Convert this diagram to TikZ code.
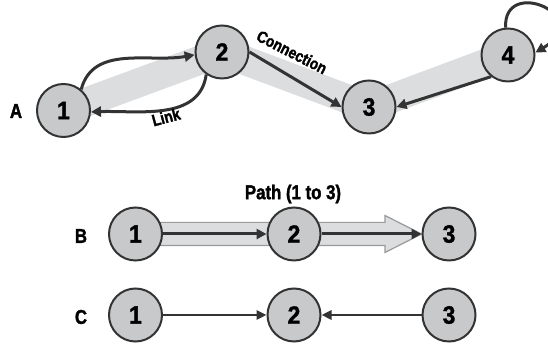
\documentclass[tikz,border=0pt]{standalone}
\usepackage{fontspec}
\setmainfont{Liberation Sans}
\newfontfamily\cond{Liberation Sans Bold}[FakeStretch=0.84,FakeBold=1.6]
\newfontfamily\digfont{Liberation Sans Bold}[FakeStretch=0.92,FakeBold=1.4]
\usetikzlibrary{arrows.meta,backgrounds,calc}
\definecolor{nodefill}{HTML}{C8C9CB}
\definecolor{dk}{HTML}{333333}
\definecolor{bandc}{HTML}{DCDDDF}
\definecolor{bandedge}{HTML}{9A9A9A}
\begin{document}
\begin{tikzpicture}[x=1pt,y=1pt,
  vtx/.style={circle,draw=dk,line width=2pt,fill=nodefill,minimum size=53pt,inner sep=0pt,
    font=\digfont\fontsize{25}{25}\selectfont},
  lbl/.style={font=\cond\fontsize{20}{20}\selectfont},
  smalllbl/.style={font=\cond\fontsize{16.5}{16.5}\selectfont},
  arr/.style={draw=dk,line width=3pt,-{Triangle[length=10pt,width=10pt]}},
  thinarr/.style={draw=dk,line width=2.6pt,-{Triangle[length=10pt,width=9pt]}},
  bandline/.style={draw=bandc,line width=29pt,line join=miter},
  bandarrow/.style={fill=bandc,draw=bandedge,line width=1.2pt,line join=miter}]
\useasboundingbox (0,0) rectangle (548,344);
% row A
\node[vtx] (a1) at (63.5,233.5) {1};
\node[vtx] (a2) at (222,292) {2};
\node[vtx] (a3) at (369,237) {3};
\node[vtx] (a4) at (508,289) {4};
\node[lbl] (la) at (16,233) {A};
\begin{scope}[on background layer]
  \draw[bandline] (a1.center) -- (a2.center) -- (a3.center) -- (a4.center);
\end{scope}
\draw[arr] (a1.50) to[out=75,in=190] (a2.186);
\draw[arr] (a2.235) to[out=262,in=2] (a1.-3);
\draw[arr] (a2.east) -- (a3.west);
\draw[arr] (a4.232) -- (a3.east);
\draw[arr] (a4.95) .. controls (503,368) and (596,328) .. (a4.5);
\node[smalllbl,rotate=-27] (tconn) at (292,292) {Connection};
\node[smalllbl,rotate=15] (tlink) at (166,227) {Link};
% row B
\node[vtx] (b1) at (135.5,110) {1};
\node[vtx] (b2) at (294,110) {2};
\node[vtx] (b3) at (449,110) {3};
\node[lbl] (lb) at (81,108) {B};
\node[lbl] (tpath) at (293,150) {Path (1 to 3)};
\begin{scope}[on background layer]
  \draw[bandarrow] ($(b1.center)+(0,11.6)$) -- (385,121.6) -- (385,128.5)
    -- (b3.west) -- (385,91.5) -- (385,98.4) -- ($(b1.center)+(0,-11.6)$) -- cycle;
\end{scope}
\draw[arr] (b1.east) -- (b2.west);
\draw[arr] (b2.east) -- (b3.west);
% row C
\node[vtx] (c1) at (135.5,29) {1};
\node[vtx] (c2) at (294,29) {2};
\node[vtx] (c3) at (449,29) {3};
\node[lbl] (lc) at (81,27) {C};
\draw[thinarr] (c1.east) -- (c2.west);
\draw[thinarr] (c3.west) -- (c2.east);
\end{tikzpicture}
\end{document}
